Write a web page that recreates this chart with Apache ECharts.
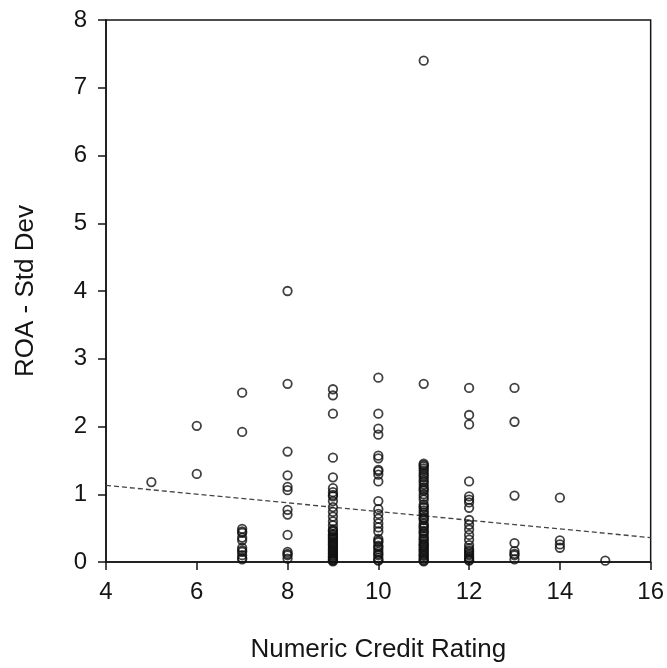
<!DOCTYPE html>
<html>
<head>
<meta charset="utf-8">
<script src="https://cdn.jsdelivr.net/npm/echarts@6/dist/echarts.min.js"></script>
<style>
  html, body { margin: 0; padding: 0; background: #fff; }
  #chart { width: 667px; height: 668px; }
</style>
</head>
<body>
<div id="chart"></div>
<script>
// ROA std dev by numeric credit rating (one array per rating)
var roa5 = [1.18];
var roa6 = [2.01, 1.30];
var roa7 = [2.50, 1.92, 0.49, 0.45, 0.43, 0.36, 0.32, 0.21, 0.17, 0.15, 0.10, 0.06, 0.04];
var roa8 = [4.00, 2.63, 1.63, 1.28, 1.11, 1.06, 0.77, 0.70, 0.40, 0.15, 0.12, 0.10, 0.05];
var roa9 = [2.55, 2.46, 2.19, 1.54, 1.25, 1.09, 1.03, 0.99, 0.97, 0.90, 0.81, 0.74, 0.67, 0.60, 0.54,
            0.48, 0.46, 0.45, 0.41, 0.40, 0.38, 0.36, 0.35, 0.33, 0.31, 0.29, 0.27, 0.26, 0.24, 0.22,
            0.20, 0.18, 0.17, 0.15, 0.13, 0.12, 0.10, 0.09, 0.07, 0.06, 0.04, 0.03, 0.02, 0.01];
var roa10 = [2.72, 2.19, 1.97, 1.88, 1.57, 1.53, 1.36, 1.34, 1.29, 1.19, 0.90, 0.78, 0.71, 0.64, 0.57,
             0.51, 0.45, 0.34, 0.31, 0.29, 0.24, 0.22, 0.19, 0.15, 0.12, 0.10, 0.06, 0.03, 0.02];
var roa11 = [7.40, 2.63, 1.45, 1.43, 1.41, 1.38, 1.35, 1.31, 1.28, 1.25, 1.21, 1.18, 1.14, 1.10, 1.07,
             1.05, 1.00, 0.96, 0.92, 0.85, 0.82, 0.80, 0.76, 0.73, 0.70, 0.66, 0.64, 0.62, 0.57, 0.54,
             0.52, 0.50, 0.46, 0.44, 0.42, 0.38, 0.35, 0.33, 0.30, 0.27, 0.25, 0.24, 0.21, 0.19,
             0.17, 0.15, 0.12, 0.10, 0.09, 0.06, 0.04, 0.02, 0.01];
var roa12 = [2.57, 2.17, 2.03, 1.19, 0.97, 0.92, 0.88, 0.80, 0.62, 0.55, 0.48, 0.40, 0.33, 0.25,
             0.20, 0.17, 0.15, 0.12, 0.10, 0.07, 0.05, 0.03, 0.02];
var roa13 = [2.57, 2.07, 0.98, 0.28, 0.16, 0.12, 0.10, 0.04];
var roa14 = [0.95, 0.32, 0.26, 0.21];
var roa15 = [0.02];

var ratings = [5, 6, 7, 8, 9, 10, 11, 12, 13, 14, 15];
var roaByRating = [roa5, roa6, roa7, roa8, roa9, roa10, roa11, roa12, roa13, roa14, roa15];

// fitted line end points
var trendX = [4, 16];
var trendY = [1.13, 0.36];

var xTicks = [4, 6, 8, 10, 12, 14, 16];

var points = [];
ratings.forEach(function (r, i) {
  roaByRating[i].forEach(function (v) { points.push([r, v]); });
});
var trend = trendX.map(function (x, i) { return [x, trendY[i]]; });

var font = '"Liberation Sans", Arial, sans-serif';
var ink = '#151515';

var chart = echarts.init(document.getElementById('chart'), null, { renderer: 'canvas' });
chart.setOption({
  animation: false,
  backgroundColor: '#fff',
  grid: {
    left: 106, top: 20, right: 15, bottom: 104,
    show: true, borderColor: ink, borderWidth: 1.5, backgroundColor: 'transparent'
  },
  xAxis: {
    type: 'value', min: 4, max: 16, interval: 2,
    name: 'Numeric Credit Rating', nameLocation: 'middle', nameGap: 75,
    nameTextStyle: { fontFamily: font, fontSize: 26, color: ink },
    axisLine: { show: true, lineStyle: { color: ink, width: 1.5 } },
    axisTick: { show: true, length: 8, lineStyle: { color: ink, width: 1.5 } },
    axisLabel: {
      fontFamily: font, fontSize: 24, color: ink, margin: 18,
      customValues: xTicks
    },
    splitLine: { show: false }
  },
  yAxis: {
    type: 'value', min: 0, max: 8, interval: 1,
    name: 'ROA - Std Dev', nameLocation: 'middle', nameGap: 67,
    nameTextStyle: { fontFamily: font, fontSize: 26, color: ink },
    axisLine: { show: true, lineStyle: { color: ink, width: 1.5 } },
    axisTick: { show: true, length: 8, lineStyle: { color: ink, width: 1.5 } },
    axisLabel: { fontFamily: font, fontSize: 24, color: ink, margin: 19 },
    splitLine: { show: false }
  },
  series: [
    {
      type: 'line',
      data: trend,
      symbol: 'none',
      lineStyle: { color: '#444', width: 1.3, type: [5, 3] },
      z: 1
    },
    {
      type: 'scatter',
      data: points,
      symbol: 'circle',
      symbolSize: 8.5,
      itemStyle: { color: 'rgba(0,0,0,0)', borderColor: '#111', borderWidth: 1.8 },
      z: 2
    }
  ]
});
</script>
</body>
</html>
